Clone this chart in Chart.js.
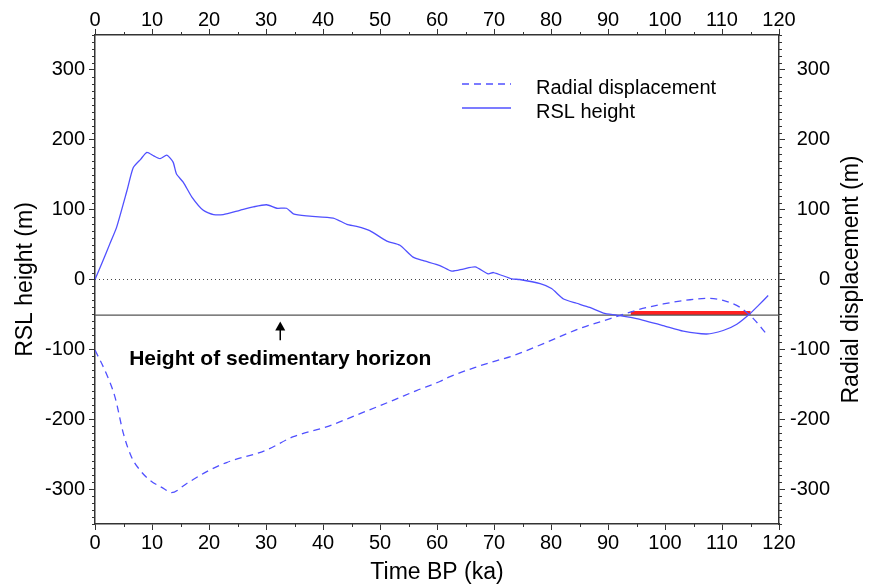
<!DOCTYPE html>
<html>
<head>
<meta charset="utf-8">
<script src="https://cdn.jsdelivr.net/npm/chart.js@4/dist/chart.umd.min.js"></script>
<style>
  html, body { margin: 0; padding: 0; background: #fff; }
  #wrap { width: 869px; height: 588px; }
</style>
</head>
<body>
<div id="wrap"><canvas id="myChart" width="869" height="588"></canvas></div>
<script>
// RSL height (solid, left axis)
const rslTime = [0, 1.3, 2.6, 3.8, 5.6, 6.7, 8, 9.1, 10.3, 11.4, 12.6, 13.7, 14.3, 15.5, 17, 19, 20.8, 22.5, 25.4, 27.8,
  30.1, 31.9, 33.6, 34.8, 37.1, 41.8, 44.2, 45.9, 48.2, 51.2, 53.5, 55.8, 57.6, 60.5, 62.6, 64.6, 66.7, 69, 69.9, 73.1,
  74.5, 78.1, 80.1, 82.2, 84.5, 86.8, 89.2, 91.5, 95, 99.7, 103.2, 107.3, 110.2, 112.6, 114.9, 116.4, 118.1];
const rslHeight = [0, 25, 51, 75, 127, 160, 172, 182, 177, 173, 178, 168, 151, 139, 118, 99, 93, 93, 99, 104,
  107, 102, 102, 94, 91, 88, 79, 76, 70, 55, 49, 32, 27, 20, 12, 15, 18, 8, 10, 1,
  0, -6, -13, -28, -34, -40, -48, -51, -56, -66, -74, -78, -73, -64, -49, -37, -23];

// radial displacement (dashed, right axis)
const radTime = [0, 2, 3.5, 5, 6.4, 7.9, 9.6, 12, 13.4, 16.1, 19.6, 23.1, 30.1, 34.8, 40.6, 46.5, 52.3, 56.4, 60.5, 62.3,
  67, 70.5, 73.4, 79.2, 85.1, 90.4, 95, 99.7, 104.4, 107.9, 110.2, 113.2, 115.5, 118.1];
const radDisp = [-101, -135, -168, -221, -254, -273, -287, -299, -305, -292, -275, -262, -244, -225, -211, -192, -173, -159, -146, -139,
  -125, -116, -109, -90, -70, -56, -44, -35, -29, -27, -30, -40, -56, -81];

// reference lines
const horizonHeight = -51;
const redSpan = [94, 115];
const redHeight = -48;
const xRange = [0, 120];
const yRange = [-350, 350];

// tick labels
const xTicks = [0, 10, 20, 30, 40, 50, 60, 70, 80, 90, 100, 110, 120];
const yTicks = [-300, -200, -100, 0, 100, 200, 300];

const FONT = "'Liberation Sans', Arial, Helvetica, sans-serif";
const BLUE = 'rgb(80, 80, 255)';
const AXIS = '#333';
const DASH = [7, 5];

function pts(xs, ys) {
  return xs.map((x, i) => ({ x: x, y: ys[i] }));
}

// small ticks between the labelled ones + legend and annotation
const extras = {
  id: 'extras',
  afterDraw(chart) {
    const ctx = chart.ctx;
    const area = chart.chartArea;
    const sx = chart.scales.x, sy = chart.scales.y;
    ctx.save();
    ctx.strokeStyle = AXIS;
    ctx.lineWidth = 1;
    // minor x ticks (every 5)
    for (let v = 5; v < 120; v += 10) {
      const px = Math.round(sx.getPixelForValue(v)) + 0.5;
      ctx.beginPath();
      ctx.moveTo(px, area.bottom); ctx.lineTo(px, area.bottom + 3);
      ctx.moveTo(px, area.top); ctx.lineTo(px, area.top - 3);
      ctx.stroke();
    }
    // minor y ticks (every 10)
    for (let v = -350; v <= 350; v += 10) {
      if (v % 100 === 0) continue;
      const py = Math.round(sy.getPixelForValue(v)) + 0.5;
      ctx.beginPath();
      ctx.moveTo(area.left, py); ctx.lineTo(area.left - 3, py);
      ctx.moveTo(area.right, py); ctx.lineTo(area.right + 3, py);
      ctx.stroke();
    }

    // legend
    const lx0 = 462, lx1 = 511;
    ctx.strokeStyle = BLUE;
    ctx.lineWidth = 1.3;
    ctx.setLineDash(DASH);
    ctx.beginPath(); ctx.moveTo(lx0, 84); ctx.lineTo(lx1, 84); ctx.stroke();
    ctx.setLineDash([]);
    ctx.beginPath(); ctx.moveTo(lx0, 108); ctx.lineTo(lx1, 108); ctx.stroke();
    ctx.fillStyle = '#000';
    ctx.font = '20px ' + FONT;
    ctx.textBaseline = 'alphabetic';
    ctx.textAlign = 'left';
    ctx.fillText('Radial displacement', 536, 94);
    ctx.fillText('RSL height', 536, 118);

    // arrow + label for the horizon
    const ax = sx.getPixelForValue(32.5);
    const tipY = sy.getPixelForValue(-60);
    const baseY = sy.getPixelForValue(-87);
    ctx.strokeStyle = '#000';
    ctx.lineWidth = 1.5;
    ctx.beginPath(); ctx.moveTo(ax, tipY + 6); ctx.lineTo(ax, baseY); ctx.stroke();
    ctx.beginPath();
    ctx.moveTo(ax, tipY); ctx.lineTo(ax - 5, tipY + 9); ctx.lineTo(ax + 5, tipY + 9); ctx.closePath();
    ctx.fill();
    ctx.font = 'bold 21px ' + FONT;
    ctx.textAlign = 'center';
    ctx.fillText('Height of sedimentary horizon', ax, sy.getPixelForValue(-123));

    // right axis title, reading upward
    ctx.translate(852, (area.top + area.bottom) / 2);
    ctx.rotate(-Math.PI / 2);
    ctx.font = '23px ' + FONT;
    ctx.textBaseline = 'middle';
    ctx.fillText('Radial displacement (m)', 0, 0);
    ctx.restore();
  }
};

function setTicks(list) {
  return function (scale) { scale.ticks = list.map(v => ({ value: v })); };
}

const tickFont = { family: FONT, size: 20 };
const titleFont = { family: FONT, size: 23 };
const edge = { display: true, color: AXIS, width: 1.5 };
const grid = { drawOnChartArea: false, tickLength: 6, tickColor: AXIS, tickWidth: 1 };

const config = {
  type: 'line',
  data: {
    datasets: [
      {
        label: 'Radial displacement',
        data: pts(radTime, radDisp),
        yAxisID: 'y2',
        borderColor: BLUE, borderWidth: 1.3, borderDash: DASH,
        pointRadius: 0, cubicInterpolationMode: 'monotone', fill: false
      },
      {
        label: 'RSL height',
        data: pts(rslTime, rslHeight),
        yAxisID: 'y',
        borderColor: BLUE, borderWidth: 1.3,
        pointRadius: 0, tension: 0.2, fill: false
      },
      {
        label: 'zero',
        data: pts(xRange, [0, 0]),
        yAxisID: 'y',
        borderColor: '#444', borderWidth: 1, borderDash: [1, 3],
        pointRadius: 0
      },
      {
        label: 'horizon',
        data: pts(xRange, [horizonHeight, horizonHeight]),
        yAxisID: 'y',
        borderColor: '#555', borderWidth: 1.2,
        pointRadius: 0
      },
      {
        label: 'window',
        data: pts(redSpan, [redHeight, redHeight]),
        yAxisID: 'y',
        borderColor: '#ff2020', borderWidth: 4,
        pointRadius: 0
      }
    ]
  },
  options: {
    responsive: false,
    animation: false,
    layout: { padding: { left: 0, top: 0, bottom: 0, right: 39 } },
    plugins: { legend: { display: false }, tooltip: { enabled: false } },
    scales: {
      x: {
        type: 'linear', position: 'bottom', min: xRange[0], max: xRange[1],
        afterBuildTicks: setTicks(xTicks),
        afterFit: s => { s.height = 64; },
        ticks: { font: tickFont, color: '#000', padding: 1, maxRotation: 0 },
        grid: grid, border: edge,
        title: { display: true, text: 'Time BP (ka)', font: titleFont, color: '#000', padding: { top: 0, bottom: 2 } }
      },
      x2: {
        type: 'linear', position: 'top', min: xRange[0], max: xRange[1],
        afterBuildTicks: setTicks(xTicks),
        afterFit: s => { s.height = 35; },
        ticks: { font: tickFont, color: '#000', padding: -3, maxRotation: 0 },
        grid: grid, border: edge
      },
      y: {
        type: 'linear', position: 'left', min: yRange[0], max: yRange[1],
        afterBuildTicks: setTicks(yTicks),
        afterFit: s => { s.width = 95; },
        ticks: { font: tickFont, color: '#000', padding: 4 },
        grid: grid, border: edge,
        title: { display: true, text: 'RSL height (m)', font: titleFont, color: '#000', padding: { top: 12, bottom: 0 } }
      },
      y2: {
        type: 'linear', position: 'right', min: yRange[0], max: yRange[1],
        afterBuildTicks: setTicks(yTicks),
        afterFit: s => { s.width = 51; },
        ticks: { font: tickFont, color: '#000', padding: 5, crossAlign: 'far' },
        grid: grid, border: edge
      }
    }
  },
  plugins: [extras]
};

new Chart(document.getElementById('myChart'), config);
</script>
</body>
</html>
